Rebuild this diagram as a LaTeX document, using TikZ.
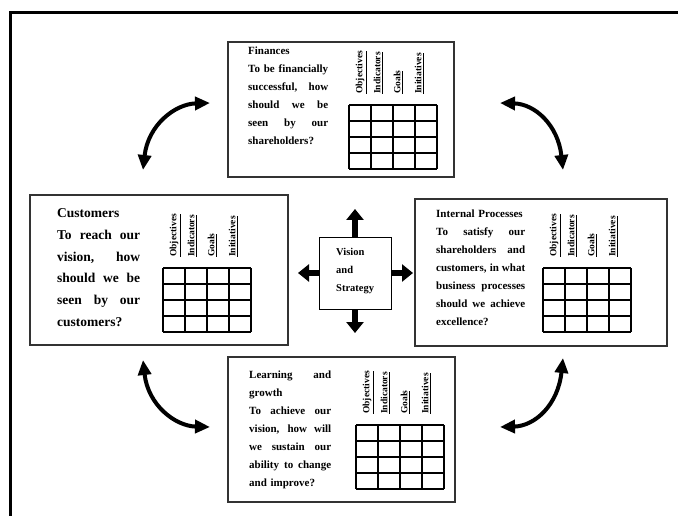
\documentclass[tikz,border=0pt]{standalone}
\usepackage{fontspec}
\setmainfont{Liberation Serif}
\usetikzlibrary{arrows.meta}

\tikzset{
  panel/.style={draw=black!80, line width=1.4pt, inner sep=0pt},
  boxtext/.style={anchor=base west, inner sep=0pt, align=left},
  colhead/.style={rotate=90, anchor=west, inner sep=0pt, font=\fontsize{9.5}{10}\selectfont\bfseries},
  gridline/.style={line width=1.6pt},
  bigarrow/.style={line width=6pt, -{Triangle[width=17pt,length=11pt]}},
  bendarrow/.style={line width=4pt, {Triangle[width=13pt,length=15pt]}-{Triangle[width=13pt,length=15pt]}},
}

% one justified line of a panel text
\newcommand{\jl}[1]{\makebox[\hsize][s]{\spaceskip=.22em plus 1fil\relax #1}}

% measure table: #1 name, (#2,#3) top left corner of the grid
\newcommand{\kpigrid}[3]{%
  \foreach \i in {0,...,4}{
    \draw[gridline] (#2+\i*22,#3) -- (#2+\i*22,#3+64);
    \draw[gridline] (#2,#3+\i*16) -- (#2+88,#3+\i*16);
  }
  \foreach \h/\dx in {Objectives/12, Indicators/29, Goals/49, Initiatives/70}
    \node[colhead] (#1-\h) at (#2+\dx,#3-11) {\underline{\h}};
}

\begin{document}
\begin{tikzpicture}[x=1pt, y=-1pt]
\useasboundingbox (0,0) rectangle (678,516);

% frame
\draw[line width=3pt] (10,516) -- (10,13) -- (678,13);

% the four perspectives
\node[panel, minimum width=226pt, minimum height=135pt] (fin) at (341,109.5) {};
\node[panel, minimum width=258pt, minimum height=150pt] (cust) at (159,270) {};
\node[panel, minimum width=252pt, minimum height=147pt] (int) at (541,272.5) {};
\node[panel, minimum width=227pt, minimum height=145pt] (learn) at (341.5,429.5) {};

% vision in the middle
\node[draw, line width=0.8pt, minimum size=72pt] (vis) at (355,273) {};
\node[boxtext, text width=50pt, font=\fontsize{10.5}{18}\selectfont\bfseries] (vistext) at (336,255.5) {Vision\\and\\Strategy};

\coordinate (vup) at (355,209);
\coordinate (vdown) at (355,333);
\coordinate (vleft) at (298,273);
\coordinate (vright) at (413,273);
\draw[bigarrow] (vis.north) -- (vup);
\draw[bigarrow] (vis.south) -- (vdown);
\draw[bigarrow] (vis.west) -- (vleft);
\draw[bigarrow] (vis.east) -- (vright);

% texts
\node[boxtext, text width=80pt, font=\fontsize{11}{18}\selectfont\bfseries] (fintext) at (248,54.5)
  {Finances\\ \jl{To be financially}\\ \jl{successful, how}\\ \jl{should we be}\\ \jl{seen by our}\\ shareholders?};
\node[boxtext, text width=83pt, font=\fontsize{13.5}{21.8}\selectfont\bfseries] (custtext) at (57,217.5)
  {Customers\\ \jl{To reach our}\\ \jl{vision, how}\\ \jl{should we be}\\ \jl{seen by our}\\ customers?};
\node[boxtext, text width=89pt, font=\fontsize{11}{18}\selectfont\bfseries] (inttext) at (436,218)
  {Internal Processes\\ \jl{To satisfy our}\\ \jl{shareholders and}\\ \jl{customers, in what}\\ \jl{business processes}\\ \jl{should we achieve}\\ excellence?};
\node[boxtext, text width=82pt, font=\fontsize{11}{18}\selectfont\bfseries] (learntext) at (249,378)
  {\jl{Learning and}\\ growth\\ \jl{To achieve our}\\ \jl{vision, how will}\\ \jl{we sustain our}\\ \jl{ability to change}\\ and improve?};

% tables
\kpigrid{fing}{349}{105}
\kpigrid{custg}{163}{268}
\kpigrid{intg}{543}{268}
\kpigrid{learng}{356}{425}

% curved arrows between the perspectives
\coordinate (tl1) at (143,170);
\coordinate (tl2) at (210,103);
\coordinate (tr1) at (500,103);
\coordinate (tr2) at (563,170);
\coordinate (bl1) at (143,360);
\coordinate (bl2) at (210,427);
\coordinate (br1) at (500,427);
\coordinate (br2) at (563,358);
\draw[bendarrow] (tl1) .. controls (148,125) and (175,104) .. (tl2);
\draw[bendarrow] (tr1) .. controls (535,104) and (558,125) .. (tr2);
\draw[bendarrow] (bl1) .. controls (148,405) and (175,426) .. (bl2);
\draw[bendarrow] (br1) .. controls (535,426) and (558,405) .. (br2);
\end{tikzpicture}
\end{document}
